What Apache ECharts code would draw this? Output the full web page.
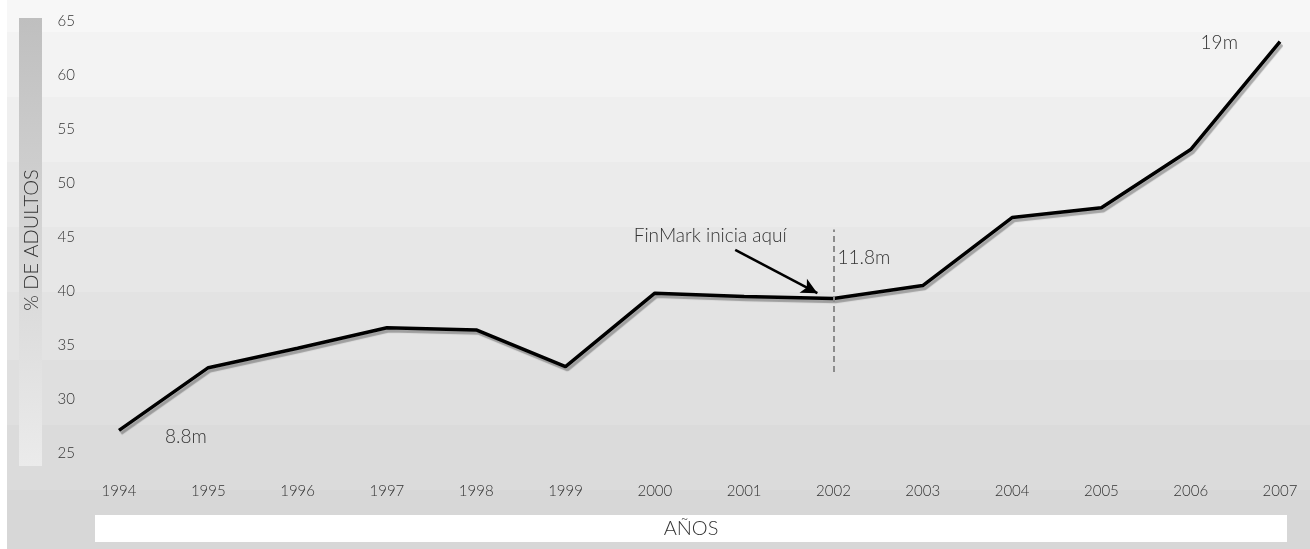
<!DOCTYPE html>
<html lang="es">
  <head>
    <meta charset="UTF-8" />
    <title>% de adultos</title>
    <script src="https://cdn.jsdelivr.net/npm/echarts@6/dist/echarts.min.js"></script>
    <style>
      body { margin: 0; background: #fff; }
    </style>
  </head>
  <body>
    <div id="main" style="width: 1310px; height: 549px"></div>
    <script type="text/javascript">
      // data
      let years = [1994, 1995, 1996, 1997, 1998, 1999, 2000, 2001, 2002, 2003, 2004, 2005, 2006, 2007]
      let adults = [27.1, 32.9, 34.7, 36.6, 36.4, 33.0, 39.8, 39.5, 39.3, 40.5, 46.8, 47.7, 53.1, 63.1]
      let yTicks = [25, 30, 35, 40, 45, 50, 55, 60, 65]
      let notes = [
        { text: "8.8m", x: 1994.75, y: 26.5 },
        { text: "11.8m", x: 2002.34, y: 43.1 },
        { text: "19m", x: 2006.32, y: 63.0 },
        { text: "FinMark inicia aquí", x: 2000.62, y: 45.1 },
      ]
      let startYear = 2002
      let bandColors = ["#f7f7f7", "#f3f3f3", "#efefef", "#ebebeb", "#e7e7e7", "#e3e3e3", "#dfdfdf", "#dbdbdb", "#d7d7d7"]
      let bandEdges = [0, 32, 97, 162, 227, 292, 360, 425, 490, 549]

      const font = "Lato, 'Open Sans', sans-serif"

      let bands = bandColors.map((c, i) => ({
        type: "rect",
        z: -10,
        shape: { x: 7, y: bandEdges[i], width: 1303, height: bandEdges[i + 1] - bandEdges[i] },
        style: { fill: c },
      }))

      let myChart = echarts.init(document.getElementById("main"))
      let options = {
        animation: false,
        textStyle: { fontFamily: font },
        grid: { left: 119, right: 30, top: 21, bottom: 96 },
        graphic: bands.concat([
          {
            type: "rect",
            z: -5,
            shape: { x: 19, y: 18, width: 23, height: 448 },
            style: {
              fill: new echarts.graphic.LinearGradient(0, 0, 0, 1, [
                { offset: 0, color: "#bfbfbf" },
                { offset: 1, color: "#ebebeb" },
              ]),
            },
          },
          {
            type: "text",
            x: 32,
            y: 240,
            rotation: Math.PI / 2,
            style: { text: "% DE ADULTOS", font: "300 20px " + font, fill: "#333", align: "center", verticalAlign: "middle" },
          },
          {
            type: "rect",
            z: -5,
            shape: { x: 95, y: 515, width: 1192, height: 27 },
            style: { fill: "#fff" },
          },
          {
            type: "text",
            x: 691,
            y: 529,
            style: { text: "AÑOS", font: "300 20px " + font, fill: "#333", align: "center", verticalAlign: "middle" },
          },
        ]),
        xAxis: {
          type: "value",
          min: years[0],
          max: years[years.length - 1],
          interval: 1,
          axisLine: { show: false },
          axisTick: { show: false },
          splitLine: { show: false },
          axisLabel: { margin: 31, color: "#333", fontSize: 15, fontWeight: 300, formatter: (v) => String(v) },
        },
        yAxis: {
          type: "value",
          min: yTicks[0],
          max: yTicks[yTicks.length - 1],
          interval: 5,
          axisLine: { show: false },
          axisTick: { show: false },
          splitLine: { show: false },
          axisLabel: { margin: 44, color: "#333", fontSize: 15, fontWeight: 300 },
        },
        series: [
          {
            type: "line",
            data: years.map((y, i) => [y, adults[i]]),
            symbol: "none",
            lineStyle: {
              color: "#000",
              width: 3.5,
              shadowColor: "rgba(0,0,0,0.3)",
              shadowOffsetX: 2,
              shadowOffsetY: 3,
              shadowBlur: 1,
            },
            markLine: {
              silent: true,
              symbol: "none",
              label: { show: false },
              data: [
                [
                  { coord: [startYear, 32.5], lineStyle: { color: "#8c8c8c", type: [6, 4], width: 2 } },
                  { coord: [startYear, 45.7] },
                ],
                [
                  { coord: [2000.9, 43.8], symbol: "none", lineStyle: { color: "#000", type: "solid", width: 2.5 } },
                  { coord: [2001.82, 39.8], symbol: "arrow", symbolSize: [12, 16] },
                ],
              ],
            },
            markPoint: {
              silent: true,
              symbol: "circle",
              symbolSize: 0,
              data: notes.map((n) => ({
                coord: [n.x, n.y],
                label: {
                  show: true,
                  position: "inside",
                  formatter: n.text,
                  color: "#333",
                  fontSize: 19,
                  fontWeight: 300,
                  fontFamily: font,
                },
              })),
            },
          },
        ],
      }

      myChart.setOption(options)
    </script>
  </body>
</html>
